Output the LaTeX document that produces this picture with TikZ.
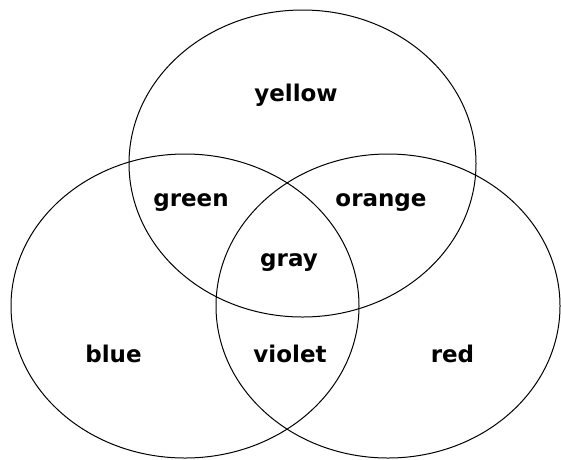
\documentclass[tikz,border=0pt]{standalone}
\usepackage{fontspec}
\setmainfont{DejaVu Sans}
\usepackage{tikz}
\tikzset{
	ring/.style={
		draw=black,
		line width=1pt
	},
	lbl/.style={
		anchor=base,
		inner sep=0pt,
		font=\fontsize{23}{23}\selectfont\bfseries
	}
}

\begin{document}
\begin{tikzpicture}[x=1pt, y=-1pt]
		\useasboundingbox (0,0) rectangle (561,459);
		% the three sets
		\draw[ring] (302.5,163.5) ellipse [x radius=173.5pt, y radius=153.5pt];
		\draw[ring] (185,306) ellipse [x radius=174pt, y radius=152pt];
		\draw[ring] (388,306) ellipse [x radius=172pt, y radius=152pt];
		% region labels
		\node[lbl] (yellow) at (296,101) {yellow};
		\node[lbl] (green) at (191,206) {green};
		\node[lbl] (orange) at (381,206) {orange};
		\node[lbl] (gray) at (289,266) {gray};
		\node[lbl] (blue) at (113.5,362) {blue};
		\node[lbl] (violet) at (290,362) {violet};
		\node[lbl] (red) at (452.5,362) {red};
	\end{tikzpicture}
\end{document}
